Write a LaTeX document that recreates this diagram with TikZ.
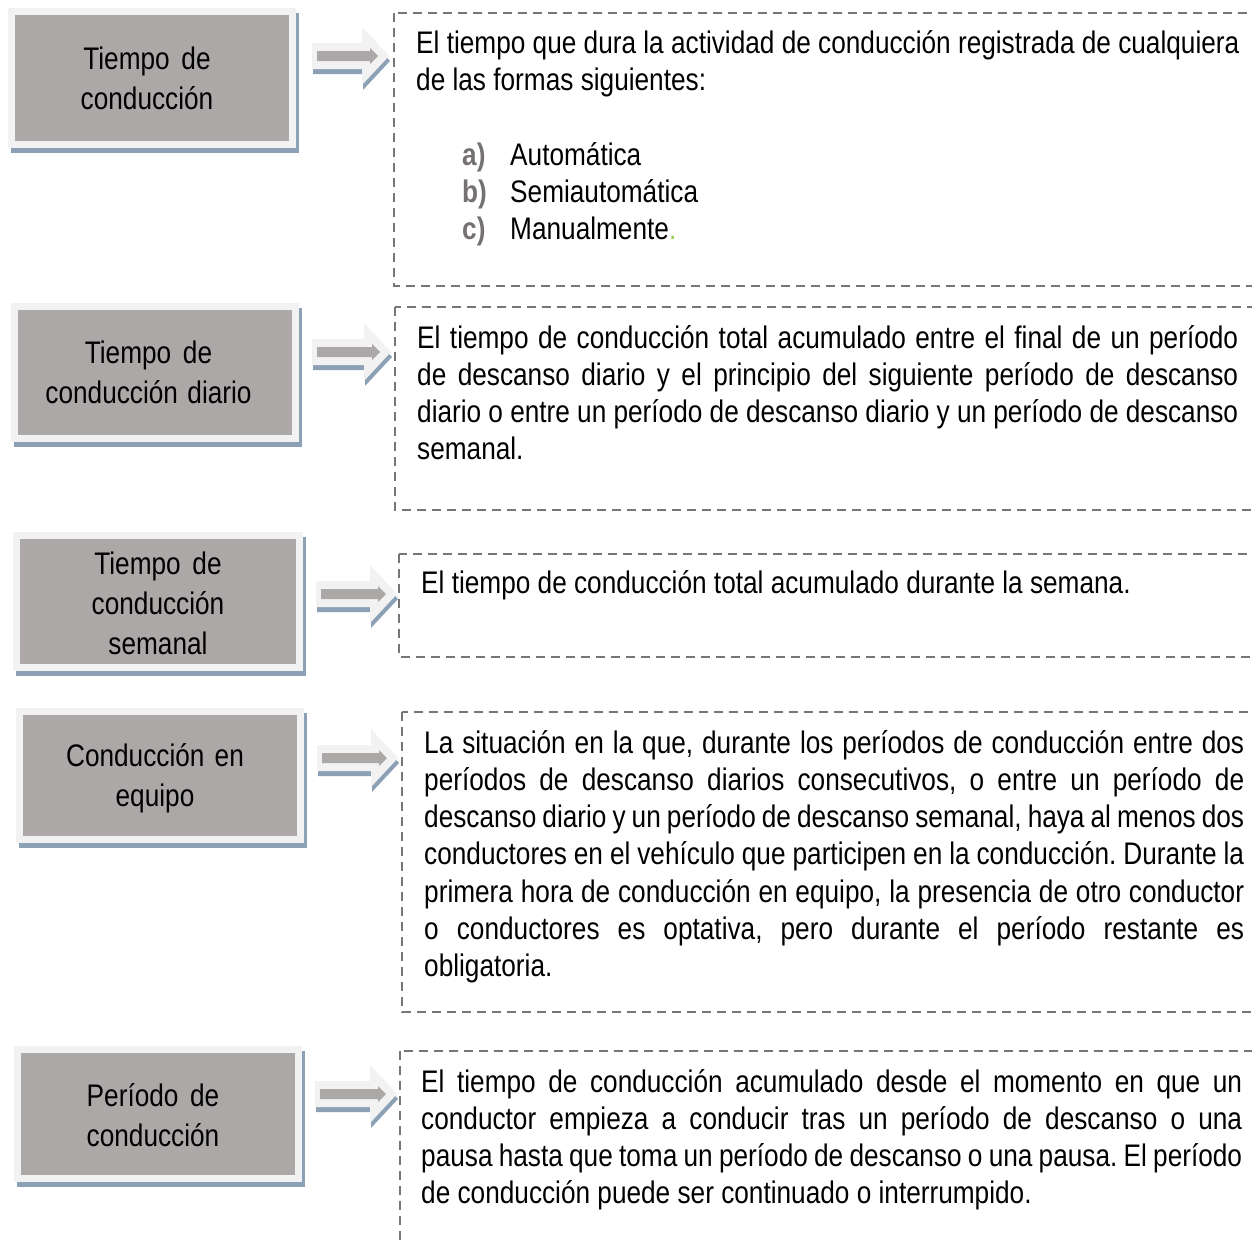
\documentclass[tikz,border=0pt]{standalone}
\usepackage{fontspec}
\setmainfont{Liberation Sans}[FakeStretch=0.84]
\frenchspacing
\definecolor{framegray}{RGB}{242,242,242}
\definecolor{boxgray}{RGB}{172,168,167}
\definecolor{shadowblue}{RGB}{140,161,182}
\definecolor{dashgray}{RGB}{118,118,118}
\definecolor{labelgray}{RGB}{118,113,113}
\definecolor{dotgreen}{RGB}{146,208,80}
\newcommand\jl[1]{\hbox to\linewidth{#1}\\}
\newcommand\lbox[4]{%
  \fill[shadowblue] (#1+3,#2+5) rectangle (#3+3,#4+5);
  \fill[framegray] (#1,#2) rectangle (#3,#4);
  \fill[boxgray] (#1+7,#2+7) rectangle (#3-7,#4-7);}
\newcommand\bigarrow[3]{% tip x, tip y, length
  \begin{scope}[shift={(#1,#2)}]
    \fill[shadowblue, shift={(1,5)}] (-#3,-13) -- (-27,-13) -- (-27,-29) -- (0,0) -- (-27,29) -- (-27,13) -- (-#3,13) -- cycle;
    \fill[framegray] (-#3,-13) -- (-27,-13) -- (-27,-29) -- (0,0) -- (-27,29) -- (-27,13) -- (-#3,13) -- cycle;
    \fill[boxgray] (-#3+5,-5) -- (-19,-5) -- (-19,-8) -- (-11,0) -- (-19,8) -- (-19,5) -- (-#3+5,5) -- cycle;
  \end{scope}}
\tikzset{
  natspace/.style={execute at begin node={\spaceskip=0pt\xspaceskip=0pt\relax}},
  dashbox/.style={draw=dashgray, line width=2pt, dash pattern=on 9pt off 6pt},
  body/.style={font=\fontsize{31.2}{37.3}\selectfont, inner sep=0pt, anchor=base west, text width=#1, align=justify},
  body/.default=821pt,
  title/.style={font=\fontsize{31.2}{40}\selectfont, inner sep=0pt, anchor=base, text width=280pt, align=center, natspace},
  lab/.style={font=\fontsize{31.2}{37.3}\selectfont\bfseries, text=labelgray, inner sep=0pt, anchor=base west},
  item/.style={font=\fontsize{31.2}{37.3}\selectfont, inner sep=0pt, anchor=base west}
}
\begin{document}
\begin{tikzpicture}[x=1pt,y=-1pt]
\useasboundingbox (0,0) rectangle (1252,1242);
\clip (0,0) rectangle (1252,1242);
\fill[white] (0,0) rectangle (1252,1242);

% dashed description boxes
\draw[dashbox] (394,13) rectangle (1290,286);
\draw[dashbox] (395,307) rectangle (1290,510);
\draw[dashbox] (399,554) rectangle (1290,657);
\draw[dashbox] (402,712) rectangle (1290,1012);
\draw[dashbox] (400,1051) rectangle (1290,1300);

% arrows
\bigarrow{389}{56}{77}
\bigarrow{391}{352}{79}
\bigarrow{397}{594}{81}
\bigarrow{398}{758}{81}
\bigarrow{397}{1094}{82}

% term boxes
\lbox{8}{8}{296}{148}
\lbox{11}{303}{299}{442}
\lbox{13}{532}{303}{671}
\lbox{16}{708}{304}{843}
\lbox{14}{1046}{302}{1182}

\node[title] (t1) at (147,69) {Tiempo de\\conducción};
\node[title] (t2) at (148.5,363) {Tiempo de\\conducción diario};
\node[title] (t3) at (158,574) {Tiempo de\\conducción\\semanal};
\node[title] (t4) at (155,766) {Conducción en\\equipo};
\node[title] (t5) at (153,1106) {Período de\\conducción};

% descriptions
\node[body=836pt, align=left, natspace] (d1) at (416,53) {El tiempo que dura la actividad de conducción registrada de cualquiera\\de las formas siguientes:};
\node[lab] (la) at (462,165) {a)};
\node[item] (ia) at (510,165) {Automática};
\node[lab] (lb) at (462,202) {b)};
\node[item] (ib) at (510,202) {Semiautomática};
\node[lab] (lc) at (462,239) {c)};
\node[item] (ic) at (510,239) {Manualmente\textcolor{dotgreen}{.}};

\node[body] (d2) at (417,348) {%
\jl{El tiempo de conducción total acumulado entre el final de un período}%
\jl{de descanso diario y el principio del siguiente período de descanso}%
\jl{diario o entre un período de descanso diario y un período de descanso}%
semanal.};

\node[body] (d3) at (421,593) {El tiempo de conducción total acumulado durante la semana.};

\node[body=820pt] (d4) at (424,753) {%
\jl{La situación en la que, durante los períodos de conducción entre dos}%
\jl{períodos de descanso diarios consecutivos, o entre un período de}%
\jl{descanso diario y un período de descanso semanal, haya al menos dos}%
\jl{conductores en el vehículo que participen en la conducción. Durante la}%
\jl{primera hora de conducción en equipo, la presencia de otro conductor}%
\jl{o conductores es optativa, pero durante el período restante es}%
obligatoria.};

\node[body] (d5) at (421,1092) {%
\jl{El tiempo de conducción acumulado desde el momento en que un}%
\jl{conductor empieza a conducir tras un período de descanso o una}%
\jl{pausa hasta que toma un período de descanso o una pausa. El período}%
de conducción puede ser continuado o interrumpido.};
\end{tikzpicture}
\end{document}
